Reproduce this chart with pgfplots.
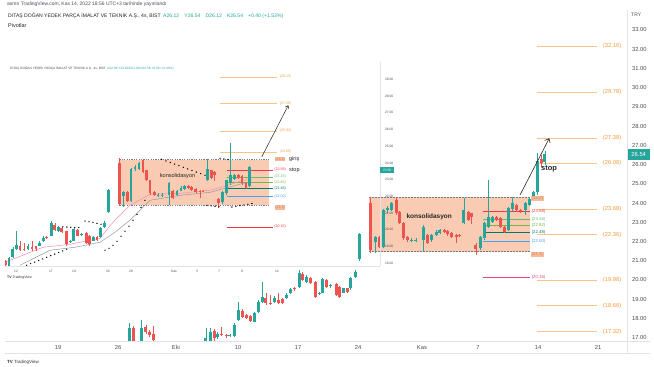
\documentclass[border=0pt]{standalone}
\usepackage{pgfplots}
\pgfplotsset{compat=1.18}
\usepackage{pgfplotstable}
\usepackage{fontspec}
\setmainfont{Liberation Sans}
\usetikzlibrary{arrows.meta,calc}
\pgfdeclarelayer{bg}
\pgfsetlayers{bg,main}

\definecolor{tvgreen}{HTML}{26A69A}
\definecolor{tvred}{HTML}{EF5350}
\definecolor{boxfill}{HTML}{F9CBB2}
\definecolor{boxlab}{HTML}{F5BC9C}
\definecolor{boxlabtext}{HTML}{D9825A}
\definecolor{fibline}{HTML}{F7C58B}
\definecolor{fibtext}{HTML}{F29B3A}
\definecolor{axtext}{HTML}{4A4E59}
\definecolor{frame}{HTML}{E0E3EB}
\definecolor{lvred}{HTML}{F23645}
\definecolor{lvgreen1}{HTML}{66BB6A}
\definecolor{lvgreen2}{HTML}{7CB342}
\definecolor{lvteal}{HTML}{00796B}
\definecolor{lvblue}{HTML}{42A5F5}
\definecolor{lvpink}{HTML}{EC407A}
\definecolor{dashgrey}{HTML}{787B86}
\definecolor{maline}{HTML}{F48FB1}
\definecolor{magrey}{HTML}{9598A1}
\newcommand{\fs}[1]{\fontsize{#1}{#1}\selectfont}

% up candles: day index (19 Sep = 0), open high low close
\pgfplotstableread{
d o h l c
5.94 16.60 17.75 16.40 17.49
6.97 16.70 17.92 16.50 17.49
12.33 16.70 17.49 16.60 16.97
12.67 16.80 17.50 16.70 17.32
13.28 17.02 17.30 16.95 17.20
14.33 17.10 17.20 17.05 17.14
14.67 17.09 17.75 17.05 17.66
15.03 17.92 18.87 17.85 18.44
16.36 17.84 18.35 17.80 18.30
16.69 18.35 18.95 18.30 18.87
17.03 18.87 19.91 18.80 19.10
18.03 18.87 19.15 18.80 19.05
19.06 19.05 19.30 19.00 19.22
19.39 19.31 19.60 19.25 19.51
20.11 19.65 20.50 19.60 20.38
20.72 19.91 20.25 19.85 20.17
21.78 19.25 19.40 19.20 19.31
22.06 19.34 20.10 19.30 20.04
22.72 19.69 19.80 19.60 19.72
23.78 19.34 19.60 19.30 19.56
24.39 19.56 20.15 19.50 20.09
24.75 20.14 20.50 20.10 20.43
25.11 21.08 22.45 21.00 22.39
26.42 21.99 22.30 21.39 22.25
27.11 21.73 23.70 21.65 23.64
27.44 23.64 23.85 23.50 23.73
27.81 23.64 24.05 23.60 23.99
29.47 22.02 22.20 21.95 22.10
29.83 22.04 22.20 21.95 22.08
30.44 22.08 22.85 21.50 22.77
31.14 22.08 22.40 22.00 22.34
31.50 22.34 22.60 22.30 22.51
31.83 22.46 22.65 22.40 22.60
33.83 22.95 24.25 22.90 23.64
35.17 21.65 22.30 21.56 22.25
35.50 22.17 23.00 22.10 22.95
35.86 22.77 25.20 22.70 23.29
36.22 23.03 23.35 22.95 23.29
37.56 22.60 23.80 22.55 23.73
37.89 23.67 24.30 23.60 23.99
38.92 23.64 24.05 23.40 23.99
39.25 23.90 24.30 23.85 24.20
39.61 24.20 24.65 24.15 24.59
39.92 24.59 26.60 24.40 26.20
40.58 26.12 26.70 26.00 26.54
}\upT

% down candles
\pgfplotstableread{
d o h l c
6.28 17.49 17.60 16.50 16.80
7.33 17.57 17.65 17.20 17.27
7.61 17.32 17.40 17.05 17.14
7.94 17.20 17.61 16.80 16.88
13.00 17.37 17.45 16.85 16.97
13.64 17.20 17.57 17.10 17.14
14.00 17.14 17.20 17.00 17.09
15.39 18.40 18.50 18.00 18.06
15.72 18.18 18.25 17.95 18.01
16.06 18.13 18.20 17.80 17.89
17.33 19.05 19.30 18.70 18.79
17.67 18.82 19.20 18.70 18.79
18.39 18.96 19.30 18.75 18.82
18.72 19.00 19.05 18.75 18.82
19.67 19.56 19.65 19.45 19.51
20.39 20.31 20.40 19.95 20.00
21.00 20.09 20.15 19.80 19.86
21.42 19.91 19.95 19.05 19.13
22.39 20.00 20.05 19.60 19.65
23.17 19.79 19.85 19.15 19.22
23.44 19.65 19.70 19.05 19.13
24.11 19.56 19.60 19.30 19.39
26.06 23.99 24.30 21.40 21.56
26.78 22.25 22.30 21.65 21.73
28.17 24.16 24.25 23.40 23.47
28.44 23.55 23.60 22.90 22.95
28.78 22.95 23.00 22.10 22.17
29.14 22.25 22.30 22.00 22.08
30.78 22.34 22.40 21.85 21.91
32.17 22.60 22.65 22.45 22.51
32.44 22.57 22.60 22.30 22.39
32.81 22.46 22.50 22.20 22.25
33.17 22.34 22.40 21.91 22.25
33.44 22.34 22.38 22.25 22.29
34.19 23.55 23.60 23.05 23.12
34.47 23.47 23.50 22.90 23.29
34.83 21.82 21.90 21.30 21.61
36.56 23.29 23.35 23.05 23.12
36.89 23.21 23.25 22.70 22.77
37.22 22.77 22.80 22.45 22.51
38.22 23.90 23.95 23.55 23.64
38.56 23.64 23.70 23.50 23.61
40.25 26.27 26.50 25.90 26.10
}\downT

\pgfplotsset{
  wickup/.style={only marks, mark=*, mark size=0pt, mark options={draw=none, fill=none}, error bars/.cd, y dir=both, y explicit, error mark=none, error bar style={draw=tvgreen, line width=#1}, /pgfplots/.cd},
  wickdn/.style={only marks, mark=*, mark size=0pt, mark options={draw=none, fill=none}, error bars/.cd, y dir=both, y explicit, error mark=none, error bar style={draw=tvred, line width=#1}, /pgfplots/.cd},
}

\begin{document}
\begin{tikzpicture}[x=1bp,y=1bp]

% ================= MAIN CHART =================
\begin{axis}[
  name=main, at={(5bp,25bp)}, anchor=south west, scale only axis,
  width=622bp, height=336bp,
  xmin=-4.4167, xmax=47.4167, ymin=16.827, ymax=34.30,
  axis line style={draw=none}, tick style={draw=none},
  clip mode=individual,
  ytick={17,18,...,33}, yticklabel pos=right,
  yticklabel style={font=\fs{5.8}, text=axtext, /pgf/number format/fixed, /pgf/number format/fixed zerofill, /pgf/number format/precision=2, xshift=1.5bp},
  /pgf/number format/assume math mode=true,
  xtick={0,5,9.83,15,20,25,30.33,35,40,45},
  xticklabels={19,26,Eki,10,17,24,Kas,7,14,21},
  xticklabel style={font=\fs{5.8}, text=axtext, yshift=-1bp},
]
\coordinate (mO) at (rel axis cs:0,0);
% consolidation box
\addplot[draw=none, fill=boxfill] coordinates {(25.94,21.47) (39.33,21.47) (39.33,24.30) (25.94,24.30)};
\addplot[dashgrey, line width=0.6bp, dash pattern=on 1.5bp off 1.5bp] coordinates {(25.94,24.30) (39.33,24.30)};
\addplot[dashgrey, line width=0.6bp, dash pattern=on 1.5bp off 1.5bp] coordinates {(25.94,21.47) (39.33,21.47)};
% levels inside box
\addplot[lvred, line width=0.6bp] coordinates {(35.42,23.58) (39.33,23.58)};
\addplot[lvgreen1, line width=0.6bp] coordinates {(35.42,23.16) (39.33,23.16)};
\addplot[lvgreen2, line width=0.6bp] coordinates {(35.42,22.82) (39.33,22.82)};
\addplot[lvteal, line width=0.6bp] coordinates {(35.42,22.48) (39.33,22.48)};
\addplot[lvblue, line width=0.6bp] coordinates {(35.42,22.00) (39.33,22.00)};
\addplot[lvpink, line width=0.6bp] coordinates {(35.42,20.16) (39.33,20.16)};
% fib extension levels
\pgfplotsinvokeforeach{32.16,29.78,27.38,26.08,23.68,22.36,19.98,18.66,17.32}{
  \addplot[fibline, line width=0.8bp] coordinates {(39.92,#1) (44.92,#1)};
  \node[font=\fs{5.8}, text=fibtext, inner sep=0] at (axis cs:46.17,#1) {(#1)};
}
% candles
\addplot[wickup=0.7bp] table[x=d, y=c, y error plus expr=\thisrow{h}-\thisrow{c}, y error minus expr=\thisrow{c}-\thisrow{l}] {\upT};
\addplot[wickup=3bp] table[x=d, y=c, y error plus expr=0, y error minus expr={max(\thisrow{c}-\thisrow{o},0.05)}] {\upT};
\addplot[wickdn=0.7bp] table[x=d, y=o, y error plus expr=\thisrow{h}-\thisrow{o}, y error minus expr=\thisrow{o}-\thisrow{l}] {\downT};
\addplot[wickdn=3bp] table[x=d, y=o, y error plus expr=0, y error minus expr={max(\thisrow{o}-\thisrow{c},0.05)}] {\downT};
% box level labels
\node[anchor=west, font=\fs{4.3}, fill=boxlab, text=boxlabtext, inner sep=0.6bp] at (axis cs:39.42,24.25) {(24.2)};
\node[anchor=west, font=\fs{4.3}, text=lvred, inner sep=0.5bp] at (axis cs:39.42,23.58) {(23.58)};
\node[anchor=west, font=\fs{4.3}, text=lvgreen1, inner sep=0.5bp] at (axis cs:39.42,23.16) {(23.16)};
\node[anchor=west, font=\fs{4.3}, text=lvgreen2, inner sep=0.5bp] at (axis cs:39.42,22.82) {(22.82)};
\node[anchor=west, font=\fs{4.3}, text=lvteal, inner sep=0.5bp] at (axis cs:39.42,22.48) {(22.48)};
\node[anchor=west, font=\fs{4.3}, text=lvblue, inner sep=0.5bp] at (axis cs:39.42,22.00) {(22.00)};
\node[anchor=west, font=\fs{4.3}, fill=boxlab, text=boxlabtext, inner sep=0.6bp] at (axis cs:39.42,21.33) {(21.3)};
\node[anchor=west, font=\fs{4.3}, text=lvpink, inner sep=0.5bp] at (axis cs:39.42,20.16) {(20.16)};
% arrow and texts
\addplot[black!85, line width=0.6bp, -{Straight Barb[length=3.5bp, width=6bp]}] coordinates {(38.5,24.42) (40.94,27.37)};
\node[anchor=west, font=\fs{7.5}\bfseries, text=black!85, inner sep=0] at (axis cs:40.25,25.76) {stop};
\node[font=\fs{6.5}\bfseries, text=black!85, inner sep=0] at (axis cs:30.93,23.29) {konsolidasyon};
% last price tag
\node[fill=tvgreen, text=white, font=\fs{5.8}, anchor=west, inner sep=0, minimum height=11bp, minimum width=23bp] at (axis cs:47.4167,26.54) {26.54};
\end{axis}

% ---- everything else placed relative to the main plot area ----
\coordinate (P) at ($(mO)+(-5,-25)$);
\begin{pgfonlayer}{bg}
\fill[white] (P) rectangle ++(654,366);
\end{pgfonlayer}
\begin{scope}[shift={(P)}]
\draw[frame, line width=0.6bp] (627,13) -- (627,356);
\draw[frame, line width=0.6bp] (5,25) -- (650,25);
\draw[frame, line width=0.6bp] (5,13) -- (650,13);
\node[font=\fs{5}, text=axtext, anchor=west, inner sep=0] at (631,351) {TRY};
\draw[frame, line width=0.5bp] (5,100) -- (380,100);
\draw[frame, line width=0.5bp] (380,100) -- (380,304);
\node[anchor=west, font=\fs{3.2}, text=axtext, inner sep=0] at (10,298) {DITAŞ DOĞAN YEDEK PARÇA İMALAT VE TEKNİK A.Ş., 4s, BIST\enspace\textcolor{tvgreen}{A22.96 Y23.80 D22.90 K23.56 +0.56 (+2.43\%)}};
\node[anchor=west, font=\fs{3.5}, text=black!80, inner sep=0] at (7,88) {\textbf{TV} TradingView};
\node[anchor=west, font=\fs{5}, text=axtext, inner sep=0] at (7,361.5) {asmn TradingView.com, Kas 14, 2022 18:56 UTC+3 tarihinde yayınlandı};
\node[anchor=west, font=\fs{5.1}, text=black!85, inner sep=0] at (8,350.3) {DITAŞ DOĞAN YEDEK PARÇA İMALAT VE TEKNİK A.Ş., 4s, BIST\enspace \textcolor{tvgreen}{A26.12\quad Y26.54\quad D26.12\quad K26.54\quad +0.40 (+1.53\%)}};
\node[anchor=west, font=\fs{5.5}, text=black!85, inner sep=0] at (8,340) {Pivotlar};
\node[anchor=west, font=\fs{4.5}, text=black!80, inner sep=0] at (7,4) {\textbf{TV} TradingView};
\end{scope}

% ================= INSET (earlier snapshot) =================
\begin{axis}[
  at={($(mO)+(0,75)$)}, anchor=south west, scale only axis,
  width=375bp, height=204bp,
  xmin=15.999, xmax=49.038, ymin=17.811, ymax=30.026,
  axis line style={draw=none}, tick style={draw=none},
  clip mode=individual,
  ytick={18,19,...,29}, yticklabel pos=right,
  yticklabel style={font=\fs{3.3}, text=axtext, /pgf/number format/fixed, /pgf/number format/fixed zerofill, /pgf/number format/precision=2, xshift=1.5bp},
  /pgf/number format/assume math mode=true,
  xtick={16.97,20.05,22.08,25.07,27.10,30.89,32.92,34.85,36.88,39.96},
  xticklabels={12,17,19,24,26,Kas,3,7,9,14},
  xticklabel style={font=\fs{3.3}, text=axtext},
]
\addplot[draw=none, fill=boxfill] coordinates {(26.07,21.46) (39.29,21.46) (39.29,24.20) (26.07,24.20)};
\addplot[dashgrey, line width=0.5bp, dash pattern=on 1.2bp off 1.2bp] coordinates {(26.07,24.20) (39.29,24.20)};
\addplot[dashgrey, line width=0.5bp, dash pattern=on 1.2bp off 1.2bp] coordinates {(26.07,21.46) (39.29,21.46)};
\addplot[lvred, line width=0.5bp] coordinates {(35.53,23.58) (39.61,23.58)};
\addplot[lvgreen1, line width=0.5bp] coordinates {(35.53,23.16) (39.61,23.16)};
\addplot[lvgreen2, line width=0.5bp] coordinates {(35.53,22.82) (39.61,22.82)};
\addplot[lvteal, line width=0.5bp] coordinates {(35.53,22.48) (39.61,22.48)};
\addplot[lvblue, line width=0.5bp] coordinates {(35.53,22.00) (39.61,22.00)};
\addplot[lvred, line width=0.7bp] coordinates {(35.53,20.16) (39.61,20.16)};
\pgfplotsinvokeforeach{29.15,27.56,25.92,24.66}{
  \addplot[fibline, line width=0.6bp] coordinates {(34.94,#1) (39.96,#1)};
  \node[font=\fs{3.5}, text=fibtext, inner sep=0] at (axis cs:40.72,#1) {(#1)};
}
% moving averages
\addplot[maline, line width=0.5bp] coordinates {(16.0,18.05) (19.35,18.95) (21.73,19.13) (24.37,19.49) (25.51,20.45) (27.01,21.46) (28.77,22.12) (31.42,22.18) (34.06,22.36) (35.38,22.60) (36.97,22.96) (37.76,23.02)};
\addplot[magrey, line width=0.5bp] coordinates {(17.32,17.87) (19.96,18.77) (22.17,18.95) (24.37,19.25) (25.69,19.85) (27.01,20.57) (28.77,21.76) (31.42,22.06) (34.06,22.24) (35.38,22.48) (36.97,22.78) (37.76,22.84)};
% candles (same data, earlier snapshot)
\addplot[restrict x to domain=15.9:37.7, wickup=0.5bp] table[x=d, y=c, y error plus expr=\thisrow{h}-\thisrow{c}, y error minus expr=\thisrow{c}-\thisrow{l}] {\upT};
\addplot[restrict x to domain=15.9:37.7, wickup=2.7bp] table[x=d, y=c, y error plus expr=0, y error minus expr={max(\thisrow{c}-\thisrow{o},0.06)}] {\upT};
\addplot[restrict x to domain=15.9:37.7, wickdn=0.5bp] table[x=d, y=o, y error plus expr=\thisrow{h}-\thisrow{o}, y error minus expr=\thisrow{o}-\thisrow{l}] {\downT};
\addplot[restrict x to domain=15.9:37.7, wickdn=2.7bp] table[x=d, y=o, y error plus expr=0, y error minus expr={max(\thisrow{o}-\thisrow{c},0.06)}] {\downT};
% parabolic SAR dots
\addplot[only marks, mark=*, mark size=0.4bp, black] coordinates {
(17.91,17.87) (18.26,17.97) (18.61,18.06) (18.97,18.16) (19.32,18.25) (19.67,18.35) (20.03,18.45) (20.38,18.54) (20.73,18.64) (21.08,18.73) (21.44,18.83)
(21.10,20.17) (21.45,20.16) (21.80,20.15) (22.15,20.14) (22.50,20.13)
(23.05,20.52) (23.40,20.48) (23.75,20.43) (24.10,20.38) (24.46,20.33)
(24.81,18.77) (25.16,18.89) (25.51,19.07) (25.87,19.31) (26.22,19.61) (26.57,19.91) (26.92,20.21) (27.28,20.57) (27.63,20.92) (27.98,21.34) (28.33,21.76)
(29.80,24.22) (30.18,24.12) (30.56,24.03) (30.94,23.93) (31.32,23.84) (31.71,23.74) (32.09,23.64) (32.47,23.55) (32.85,23.45) (33.24,23.36) (33.62,23.26)
(33.80,21.46) (34.15,21.43) (34.50,21.40) (34.85,21.37)
(34.94,24.28) (35.29,24.24) (35.65,24.20)
(35.99,21.36) (36.34,21.40) (36.69,21.45) (37.05,21.48) (37.40,21.52) (37.75,21.57)};
% level labels
\node[font=\fs{3.6}, fill=boxlab, text=boxlabtext, inner sep=0.5bp] at (axis cs:40.23,24.22) {(24.2)};
\node[font=\fs{3.6}, text=lvred, inner sep=0.4bp] at (axis cs:40.23,23.58) {(23.58)};
\node[font=\fs{3.6}, text=lvgreen1, inner sep=0.4bp] at (axis cs:40.23,23.16) {(23.16)};
\node[font=\fs{3.6}, text=lvgreen2, inner sep=0.4bp] at (axis cs:40.23,22.82) {(22.82)};
\node[font=\fs{3.6}, text=lvteal, inner sep=0.4bp] at (axis cs:40.23,22.48) {(22.48)};
\node[font=\fs{3.6}, text=lvblue, inner sep=0.4bp] at (axis cs:40.23,22.00) {(22.00)};
\node[font=\fs{3.6}, fill=boxlab, text=boxlabtext, inner sep=0.5bp] at (axis cs:40.23,21.33) {(21.3)};
\node[font=\fs{3.6}, text=lvred, inner sep=0.4bp] at (axis cs:40.23,20.16) {(20.16)};
\addplot[black!85, line width=0.5bp, -{Straight Barb[length=2.5bp, width=4bp]}] coordinates {(38.62,24.36) (40.96,27.45)};
\node[anchor=west, font=\fs{5.5}, text=black!85, inner sep=0] at (axis cs:41.02,24.22) {giriş};
\node[anchor=west, font=\fs{5.5}, text=black!85, inner sep=0] at (axis cs:41.02,23.54) {stop};
\node[font=\fs{5.6}, text=black!85, inner sep=0] at (axis cs:31.2,23.22) {konsolidasyon};
\node[fill=tvgreen, text=white, font=\fs{3.3}, anchor=west, inner sep=0, minimum height=6bp, minimum width=14bp] at (axis cs:49.038,23.56) {23.56};
\end{axis}

\pgfresetboundingbox
\path[use as bounding box] (P) rectangle ++(654,366);
\end{tikzpicture}
\end{document}
